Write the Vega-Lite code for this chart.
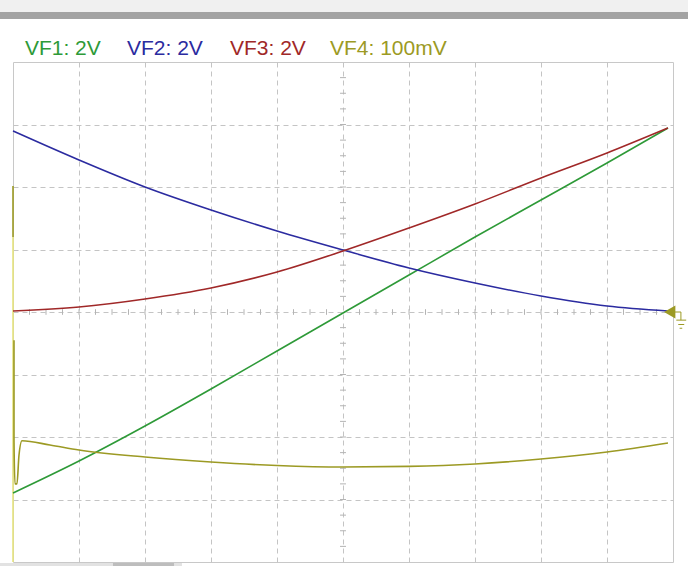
{
  "$schema": "https://vega.github.io/schema/vega-lite/v6.json",
  "width": 660,
  "height": 500,
  "autosize": {"type": "none"},
  "padding": {"left": 13, "top": 62, "right": 15, "bottom": 4},
  "background": "white",
  "config": {
    "view": {"stroke": "#c8c8c8", "strokeWidth": 1},
    "font": "Liberation Sans",
    "legend": {"disable": true}
  },
  "data": {"values": [{}]},
  "datasets": {
    "traces": [
      {"s": "VF4L", "p": "l", "x": 0, "y": 1.2},
      {"s": "VF4L", "p": "l", "x": 0, "y": -4.0},
      {"s": "VF1", "p": "a", "x": 0, "y": -2.896},
      {"s": "VF1", "p": "a", "x": 1, "y": -2.384},
      {"s": "VF1", "p": "a", "x": 2, "y": -1.824},
      {"s": "VF1", "p": "a", "x": 3, "y": -1.232},
      {"s": "VF1", "p": "a", "x": 4, "y": -0.624},
      {"s": "VF1", "p": "a", "x": 5, "y": -0.016},
      {"s": "VF1", "p": "a", "x": 6, "y": 0.592},
      {"s": "VF1", "p": "a", "x": 7, "y": 1.2},
      {"s": "VF1", "p": "a", "x": 8, "y": 1.792},
      {"s": "VF1", "p": "a", "x": 9, "y": 2.384},
      {"s": "VF1", "p": "a", "x": 9.924, "y": 2.944},
      {"s": "VF2", "p": "a", "x": 0, "y": 2.896},
      {"s": "VF2", "p": "a", "x": 1, "y": 2.432},
      {"s": "VF2", "p": "a", "x": 2, "y": 2.0},
      {"s": "VF2", "p": "a", "x": 3, "y": 1.632},
      {"s": "VF2", "p": "a", "x": 4, "y": 1.296},
      {"s": "VF2", "p": "a", "x": 5, "y": 0.992},
      {"s": "VF2", "p": "a", "x": 6, "y": 0.704},
      {"s": "VF2", "p": "a", "x": 7, "y": 0.464},
      {"s": "VF2", "p": "a", "x": 8, "y": 0.256},
      {"s": "VF2", "p": "a", "x": 9, "y": 0.096},
      {"s": "VF2", "p": "a", "x": 9.924, "y": 0.016},
      {"s": "VF3", "p": "a", "x": 0, "y": 0.016},
      {"s": "VF3", "p": "a", "x": 1, "y": 0.08},
      {"s": "VF3", "p": "a", "x": 2, "y": 0.208},
      {"s": "VF3", "p": "a", "x": 3, "y": 0.384},
      {"s": "VF3", "p": "a", "x": 4, "y": 0.64},
      {"s": "VF3", "p": "a", "x": 5, "y": 0.976},
      {"s": "VF3", "p": "a", "x": 6, "y": 1.344},
      {"s": "VF3", "p": "a", "x": 7, "y": 1.728},
      {"s": "VF3", "p": "a", "x": 8, "y": 2.144},
      {"s": "VF3", "p": "a", "x": 9, "y": 2.544},
      {"s": "VF3", "p": "a", "x": 9.924, "y": 2.944},
      {"s": "VF4", "p": "a", "x": 0, "y": 2.016},
      {"s": "VF4", "p": "a", "x": 0, "y": 1.2},
      {"s": "VF4", "p": "b", "x": 0.015, "y": -0.45},
      {"s": "VF4", "p": "b", "x": 0.015, "y": -2.05},
      {"s": "VF4", "p": "b", "x": 0.03, "y": -2.75},
      {"s": "VF4", "p": "b", "x": 0.06, "y": -2.75},
      {"s": "VF4", "p": "b", "x": 0.09, "y": -2.3},
      {"s": "VF4", "p": "b", "x": 0.136, "y": -2.06},
      {"s": "VF4", "p": "b", "x": 0.56, "y": -2.128},
      {"s": "VF4", "p": "b", "x": 1, "y": -2.208},
      {"s": "VF4", "p": "b", "x": 2, "y": -2.32},
      {"s": "VF4", "p": "b", "x": 3, "y": -2.4},
      {"s": "VF4", "p": "b", "x": 4, "y": -2.456},
      {"s": "VF4", "p": "b", "x": 5, "y": -2.48},
      {"s": "VF4", "p": "b", "x": 6, "y": -2.47},
      {"s": "VF4", "p": "b", "x": 7, "y": -2.432},
      {"s": "VF4", "p": "b", "x": 8, "y": -2.352},
      {"s": "VF4", "p": "b", "x": 9, "y": -2.24},
      {"s": "VF4", "p": "b", "x": 9.924, "y": -2.096}
    ],
    "hticks": [
      {"x": 0.25}, {"x": 0.5}, {"x": 0.75}, {"x": 1}, {"x": 1.25}, {"x": 1.5}, {"x": 1.75}, {"x": 2},
      {"x": 2.25}, {"x": 2.5}, {"x": 2.75}, {"x": 3}, {"x": 3.25}, {"x": 3.5}, {"x": 3.75}, {"x": 4},
      {"x": 4.25}, {"x": 4.5}, {"x": 4.75}, {"x": 5.25}, {"x": 5.5}, {"x": 5.75}, {"x": 6},
      {"x": 6.25}, {"x": 6.5}, {"x": 6.75}, {"x": 7}, {"x": 7.25}, {"x": 7.5}, {"x": 7.75}, {"x": 8},
      {"x": 8.25}, {"x": 8.5}, {"x": 8.75}, {"x": 9}, {"x": 9.25}, {"x": 9.5}, {"x": 9.75}
    ],
    "vticks": [
      {"y": -3.75}, {"y": -3.5}, {"y": -3.25}, {"y": -3}, {"y": -2.75}, {"y": -2.5}, {"y": -2.25}, {"y": -2},
      {"y": -1.75}, {"y": -1.5}, {"y": -1.25}, {"y": -1}, {"y": -0.75}, {"y": -0.5}, {"y": -0.25},
      {"y": 0.25}, {"y": 0.5}, {"y": 0.75}, {"y": 1}, {"y": 1.25}, {"y": 1.5}, {"y": 1.75}, {"y": 2},
      {"y": 2.25}, {"y": 2.5}, {"y": 2.75}, {"y": 3}, {"y": 3.25}, {"y": 3.5}, {"y": 3.75}
    ],
    "ground": [
      {"x": 10.0, "x2": 10.12, "y": 0, "y2": 0},
      {"x": 10.12, "x2": 10.12, "y": 0, "y2": -0.13},
      {"x": 10.05, "x2": 10.2, "y": -0.13, "y2": -0.13},
      {"x": 10.08, "x2": 10.17, "y": -0.2, "y2": -0.2},
      {"x": 10.1, "x2": 10.14, "y": -0.26, "y2": -0.26}
    ]
  },
  "layer": [
    {
      "mark": {"type": "rect", "color": "#f0f0f0"},
      "encoding": {
        "x": {"datum": -0.3, "type": "quantitative", "scale": {"domain": [0, 10], "nice": false, "zero": false},
          "axis": {"values": [1, 2, 3, 4, 5, 6, 7, 8, 9], "grid": true, "gridDash": [5, 4], "gridColor": "#c4c4c4", "gridWidth": 1, "labels": false, "ticks": false, "domain": false, "title": null}},
        "x2": {"datum": 10.6},
        "y": {"datum": 5.2, "type": "quantitative", "scale": {"domain": [-4, 4], "nice": false, "zero": false},
          "axis": {"values": [-3, -2, -1, 0, 1, 2, 3], "grid": true, "gridDash": [5, 4], "gridColor": "#c4c4c4", "gridWidth": 1, "labels": false, "ticks": false, "domain": false, "title": null}},
        "y2": {"datum": 4.8}
      }
    },
    {
      "mark": {"type": "rect", "color": "#a3a3a3"},
      "encoding": {
        "x": {"datum": -0.3, "type": "quantitative"},
        "x2": {"datum": 10.6},
        "y": {"datum": 4.8, "type": "quantitative"},
        "y2": {"datum": 4.69}
      }
    },
    {
      "mark": {"type": "rect", "color": "#e2e2e2"},
      "encoding": {
        "x": {"datum": -0.2, "type": "quantitative"},
        "x2": {"datum": 2.56},
        "y": {"datum": -4.016, "type": "quantitative"},
        "y2": {"datum": -4.1}
      }
    },
    {
      "mark": {"type": "rect", "color": "#bdbdbd"},
      "encoding": {
        "x": {"datum": 1.515, "type": "quantitative"},
        "x2": {"datum": 2.44},
        "y": {"datum": -4.016, "type": "quantitative"},
        "y2": {"datum": -4.1}
      }
    },
    {
      "data": {"name": "hticks"},
      "mark": {"type": "rule", "color": "#b4b4b4", "strokeWidth": 1},
      "encoding": {
        "x": {"field": "x", "type": "quantitative"},
        "y": {"datum": -0.045, "type": "quantitative"},
        "y2": {"datum": 0.045}
      }
    },
    {
      "data": {"name": "vticks"},
      "mark": {"type": "rule", "color": "#b4b4b4", "strokeWidth": 1},
      "encoding": {
        "y": {"field": "y", "type": "quantitative"},
        "x": {"datum": 4.955, "type": "quantitative"},
        "x2": {"datum": 5.045}
      }
    },
    {
      "data": {"name": "traces"},
      "mark": {"type": "line", "strokeWidth": 1.6, "interpolate": "monotone"},
      "encoding": {
        "x": {"field": "x", "type": "quantitative"},
        "y": {"field": "y", "type": "quantitative"},
        "color": {"field": "s", "type": "nominal",
          "scale": {"domain": ["VF1", "VF2", "VF3", "VF4", "VF4L"], "range": ["#2e9a38", "#2b2ba0", "#a02828", "#9c9a24", "#e6e47e"]}},
        "detail": {"field": "p"},
        "order": {"value": null}
      }
    },
    {
      "data": {"name": "ground"},
      "mark": {"type": "rule", "color": "#9c9a24", "strokeWidth": 1},
      "encoding": {
        "x": {"field": "x", "type": "quantitative"},
        "x2": {"field": "x2"},
        "y": {"field": "y", "type": "quantitative"},
        "y2": {"field": "y2"}
      }
    },
    {
      "mark": {"type": "point", "shape": "triangle-left", "filled": true, "size": 170, "color": "#9c9a24", "opacity": 1},
      "encoding": {
        "x": {"datum": 9.95, "type": "quantitative"},
        "y": {"datum": 0, "type": "quantitative"}
      }
    },
    {
      "mark": {"type": "text", "text": "VF1: 2V", "fontSize": 21, "align": "left", "baseline": "alphabetic"},
      "encoding": {
        "x": {"datum": 0.18, "type": "quantitative"},
        "y": {"datum": 4.112, "type": "quantitative"},
        "color": {"datum": "VF1"}
      }
    },
    {
      "mark": {"type": "text", "text": "VF2: 2V", "fontSize": 21, "align": "left", "baseline": "alphabetic"},
      "encoding": {
        "x": {"datum": 1.727, "type": "quantitative"},
        "y": {"datum": 4.112, "type": "quantitative"},
        "color": {"datum": "VF2"}
      }
    },
    {
      "mark": {"type": "text", "text": "VF3: 2V", "fontSize": 21, "align": "left", "baseline": "alphabetic"},
      "encoding": {
        "x": {"datum": 3.288, "type": "quantitative"},
        "y": {"datum": 4.112, "type": "quantitative"},
        "color": {"datum": "VF3"}
      }
    },
    {
      "mark": {"type": "text", "text": "VF4: 100mV", "fontSize": 21, "align": "left", "baseline": "alphabetic"},
      "encoding": {
        "x": {"datum": 4.803, "type": "quantitative"},
        "y": {"datum": 4.112, "type": "quantitative"},
        "color": {"datum": "VF4"}
      }
    }
  ]
}
